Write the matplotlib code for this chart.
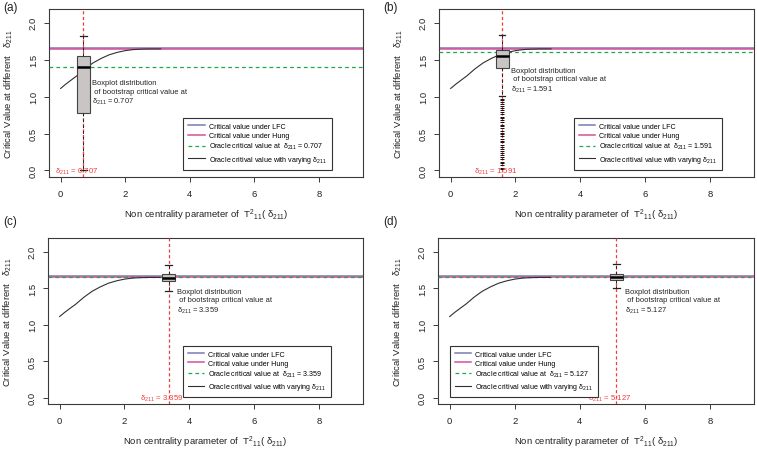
import numpy as np
import matplotlib
matplotlib.use("Agg")
import matplotlib.pyplot as plt

plt.rcParams['font.family'] = ['Liberation Sans', 'DejaVu Sans']
plt.rcParams['mathtext.fontset'] = 'custom'
plt.rcParams['mathtext.rm'] = 'Liberation Sans'
plt.rcParams['mathtext.it'] = 'Liberation Sans'

# ---- data ----
panel_tags = ['(a)', '(b)', '(c)', '(d)']
deltas = [0.707, 1.591, 3.359, 5.127]
delta_text = ['0.707', '1.591', '3.359', '5.127']

lfc_value = 1.66
hung_value = 1.645
oracle_at_delta = [1.405, 1.605, 1.655, 1.655]

# oracle critical value as a function of the non centrality parameter
curve_x = [0.0, 0.15, 0.3, 0.5, 0.75, 1.0, 1.25, 1.5, 1.75, 2.0, 2.25, 2.5, 2.75, 3.0, 3.1]
curve_y = [1.11, 1.165, 1.215, 1.28, 1.375, 1.455, 1.515, 1.565, 1.598, 1.622, 1.636, 1.642, 1.645, 1.645, 1.645]

# bootstrap boxplots
box_q1 = [0.78, 1.39, 1.59, 1.61]
box_med = [1.40, 1.545, 1.64, 1.655]
box_q3 = [1.555, 1.63, 1.69, 1.69]
box_lo = [0.01, 1.01, 1.458, 1.50]
box_hi = [1.82, 1.83, 1.82, 1.83]
fliers_b = [0.97, 0.95, 0.92, 0.90, 0.87, 0.84, 0.82, 0.79, 0.76, 0.73, 0.71,
            0.68, 0.65, 0.62, 0.60, 0.57, 0.54, 0.51, 0.49, 0.46, 0.43, 0.40,
            0.38, 0.35, 0.32, 0.29, 0.26, 0.24, 0.21, 0.18, 0.15, 0.12, 0.10,
            0.07, 0.04, 0.02]
box_fliers = [[], fliers_b, [], []]

# ---- layout (pixels) ----
W, H = 757, 452
axes_px = [(49, 10, 363, 178), (439, 10, 754, 178),
           (48, 239, 363, 405), (438, 239, 754, 405)]
tag_px = [(3, 2), (383, 2), (3, 216), (383, 216)]
ann_y = [1.05, 1.22, 1.32, 1.32]
legend_x = [3.8, 3.8, 3.8, 0.0]

c_lfc = '#7a7ab4'
c_hung = '#d4509a'
c_green = '#1fa84a'
c_red = '#f03c3c'
c_axis = '#3a3a3a'

fig = plt.figure(figsize=(W / 100, H / 100), dpi=100)

for i in range(4):
    l, t, r, b = axes_px[i]
    ax = fig.add_axes([l / W, 1 - b / H, (r - l) / W, (b - t) / H])
    d = deltas[i]

    ax.axhline(lfc_value, color=c_lfc, lw=1.1, label='Critical value under LFC', zorder=2)
    ax.axhline(hung_value, color=c_hung, lw=1.1, label='Critical value under Hung', zorder=2)
    ax.axhline(oracle_at_delta[i], color=c_green, lw=0.9, dashes=(3, 2.5),
               label=r'Oracle critical value at  $\delta_{211}$ = ' + delta_text[i], zorder=3)
    ax.plot(curve_x, curve_y, color='#303030', lw=0.8,
            label=r'Oracle critival value with varying $\delta_{211}$', zorder=3)
    ax.axvline(d, color=c_red, lw=0.9, dashes=(2.5, 2), zorder=4)

    stats = [dict(med=box_med[i], q1=box_q1[i], q3=box_q3[i],
                  whislo=box_lo[i], whishi=box_hi[i], fliers=box_fliers[i])]
    ax.bxp(stats, positions=[d], widths=0.4, capwidths=0.2, patch_artist=True,
           manage_ticks=False, zorder=5,
           boxprops=dict(facecolor='#c9c5c5', edgecolor='#444444', lw=0.8),
           medianprops=dict(color='black', lw=1.8),
           whiskerprops=dict(color='#222222', lw=0.7, linestyle=(0, (3, 3))),
           capprops=dict(color='#222222', lw=0.9),
           flierprops=dict(marker='_', markersize=2.2, markeredgecolor='#111111',
                           markeredgewidth=0.7, linestyle='none'))

    ax.text(d + 0.27, ann_y[i],
            'Boxplot distribution\n of bootstrap critical value at\n'
            + r'$\delta_{211}$ = ' + delta_text[i],
            fontsize=5.4, color='#222222', ha='left', va='center',
            linespacing=1.25, zorder=6)
    ax.text(d - 0.21, 0.0, r'$\delta_{211}$ = ' + delta_text[i], fontsize=5.6,
            color=c_red, ha='center', va='center', zorder=6)

    ax.set_xlim(-0.36, 9.36)
    ax.set_ylim(-0.088, 2.185)
    ax.set_xticks([0, 2, 4, 6, 8])
    ax.set_yticks([0.0, 0.5, 1.0, 1.5, 2.0])
    ax.set_yticklabels(['0.0', '0.5', '1.0', '1.5', '2.0'])
    ax.tick_params(axis='both', length=3.5, width=0.7, color=c_axis,
                   labelsize=6.8, labelcolor='#222222')
    ax.tick_params(axis='x', pad=5.2)
    ax.tick_params(axis='y', pad=4.5, labelrotation=90)
    for lab in ax.get_yticklabels():
        lab.set_va('center')
    for s in ax.spines.values():
        s.set_color(c_axis)
        s.set_linewidth(0.8)

    ax.text(0.5, -0.225, r'Non centrality parameter of  $\mathrm{T}^{2}{}_{11}($ $\delta_{211})$',
            transform=ax.transAxes, ha='center', va='center', fontsize=6.8, color='#222222')
    ax.text((8 + (l - 48) - l) / (r - l), 0.5,
            r'Critical Value at different   $\delta_{211}$',
            transform=ax.transAxes, rotation=90, ha='center', va='center',
            fontsize=6.8, color='#222222')

    leg = ax.legend(loc='upper left', bbox_to_anchor=(legend_x[i], 0.71),
                    bbox_transform=ax.transData, fontsize=5.1, frameon=True,
                    fancybox=False, framealpha=1, edgecolor='#333333',
                    borderpad=0.7, labelspacing=0.3, handlelength=2.3,
                    handletextpad=0.6, borderaxespad=0)
    leg.get_frame().set_linewidth(0.8)
    leg.set_zorder(7)

    fig.text(tag_px[i][0] / W, 1 - tag_px[i][1] / H, panel_tags[i],
             fontsize=8.5, ha='left', va='top', color='#222222')

fig.savefig('out.png', dpi=100)
